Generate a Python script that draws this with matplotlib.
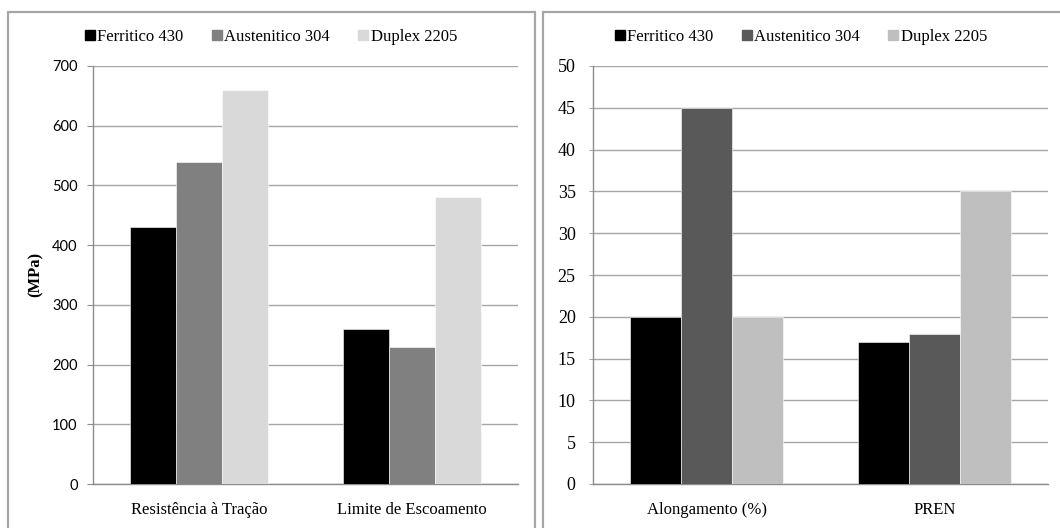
import numpy as np
import matplotlib
matplotlib.use("Agg")
from matplotlib import pyplot as plt
from matplotlib.patches import Rectangle

# mechanical properties of the three stainless steels
series = ["Ferritico 430", "Austenitico 304", "Duplex 2205"]

mech_labels = ["Resistência à Tração", "Limite de Escoamento"]
mech_ferritico = [430, 260]
mech_austenitico = [540, 230]
mech_duplex = [660, 480]

other_labels = ["Alongamento (%)", "PREN"]
other_ferritico = [20, 17]
other_austenitico = [45, 18]
other_duplex = [20, 35]

left_colors = ["#000000", "#808080", "#d9d9d9"]
right_colors = ["#000000", "#595959", "#bfbfbf"]

SERIF = "Liberation Serif"
SANS = "Lato"


def draw_panel(ax, labels, values, colors, width):
    x = np.arange(len(labels))
    for i, vals in enumerate(values):
        ax.bar(x + (i - 1) * width, vals, width, color=colors[i],
               edgecolor="white", linewidth=0.4, zorder=3)
    ax.set_xlim(-0.5, len(labels) - 0.5)
    ax.set_xticks(x)
    ax.set_xticklabels(labels, family=SERIF, fontsize=12)
    ax.tick_params(axis="x", length=0, pad=13)
    ax.yaxis.grid(True, color="#a6a6a6", linewidth=1.0, zorder=0)
    for side in ["top", "right"]:
        ax.spines[side].set_visible(False)
    ax.spines["left"].set_color("#8c8c8c")
    ax.spines["bottom"].set_color("#8c8c8c")
    ax.spines["left"].set_linewidth(1.0)
    ax.spines["bottom"].set_linewidth(1.0)


def panel_legend(fig, colors, xc):
    handles = [Rectangle((0, 0), 1, 1, color=c) for c in colors]
    fig.legend(handles, series, loc="center", bbox_to_anchor=(xc, 0.930),
               ncol=3, frameon=False, handlelength=0.6, handleheight=0.6,
               handletextpad=0.15, columnspacing=1.7,
               prop={"family": SERIF, "size": 12})


fig = plt.figure(figsize=(10.6, 5.28), dpi=100)

# panel frames
for x0, x1 in [(8, 535), (543, 1062)]:
    fig.patches.append(Rectangle((x0 / 1060, -0.01), (x1 - x0) / 1060, 1 - 12 / 528 + 0.01,
                                 transform=fig.transFigure, fill=False,
                                 edgecolor="#a6a6a6", linewidth=1.6))

ax1 = fig.add_axes([93 / 1060, 1 - 484 / 528, (518 - 93) / 1060, (484 - 66) / 528])
draw_panel(ax1, mech_labels, [mech_ferritico, mech_austenitico, mech_duplex],
           left_colors, 0.216)
ax1.set_ylim(0, 700)
ax1.set_yticks(np.arange(0, 701, 100))
ax1.tick_params(axis="y", length=4, color="#8c8c8c", pad=7, labelsize=10.5)
for t in ax1.get_yticklabels():
    t.set_family(SANS)
fig.text(36 / 1060, 1 - 274 / 528, "(MPa)", rotation=90, ha="center", va="center",
         family=SERIF, fontweight="bold", fontsize=12)
panel_legend(fig, left_colors, 271 / 1060)

ax2 = fig.add_axes([593 / 1060, 1 - 484 / 528, (1048 - 593) / 1060, (484 - 66) / 528])
draw_panel(ax2, other_labels, [other_ferritico, other_austenitico, other_duplex],
           right_colors, 0.224)
ax2.set_ylim(0, 50)
ax2.set_yticks(np.arange(0, 51, 5))
ax2.tick_params(axis="y", length=3, color="#a6a6a6", pad=9.5, labelsize=13)
for t in ax2.get_yticklabels():
    t.set_family(SERIF)
panel_legend(fig, right_colors, 801 / 1060)

fig.savefig("out.png", dpi=100)
